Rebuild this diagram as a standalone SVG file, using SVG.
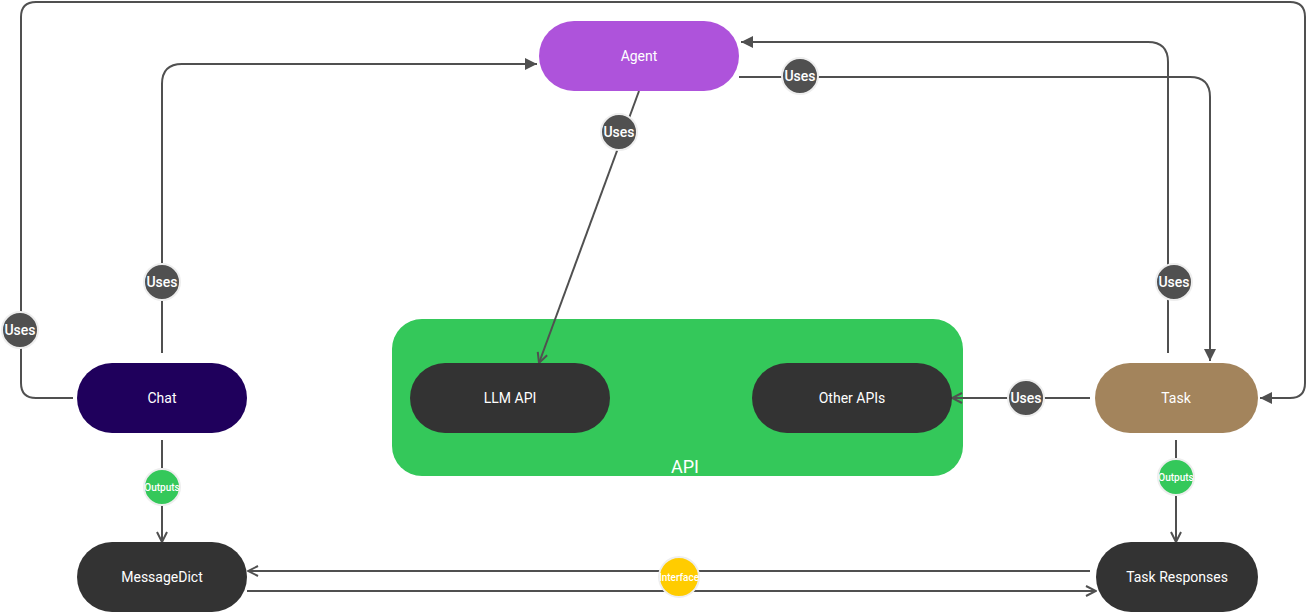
<svg xmlns="http://www.w3.org/2000/svg" width="1309" height="612" viewBox="0 0 1309 612">
<style>
.lbl{font-family:Roboto,"Liberation Sans",sans-serif;fill:#fff;font-size:14px;text-anchor:middle;dominant-baseline:central}
.edge{fill:none;stroke:#505050;stroke-width:2}
.uses{fill:#505050;stroke:#eeeeee;stroke-width:2}
.ut{font-family:Roboto,"Liberation Sans",sans-serif;fill:#fff;font-size:14px;font-weight:500;text-anchor:middle;dominant-baseline:central}
.out{fill:#34c85a;stroke:#eeeeee;stroke-width:2}
.st{font-family:Roboto,"Liberation Sans",sans-serif;fill:#fff;font-size:10px;font-weight:500;text-anchor:middle;dominant-baseline:central}
</style>
<defs>
<marker id="fa" viewBox="0 0 10 10" refX="10" refY="5" markerWidth="6" markerHeight="6" markerUnits="strokeWidth" orient="auto">
<path d="M0,0 L10,5 L0,10 Z" fill="#505050"/>
</marker>
<marker id="oa" viewBox="0 0 12 12" refX="11" refY="6" markerWidth="6" markerHeight="6" markerUnits="strokeWidth" orient="auto">
<path d="M1,1 L11,6 L1,11" fill="none" stroke="#505050" stroke-width="2"/>
</marker>
</defs>
<g id="api-group">
<rect x="392" y="319" width="571" height="157" rx="30" fill="#34c85a"/>
<text x="685" y="466" class="lbl" style="font-size:18px">API</text>
</g>
<g id="connectors">
<path class="edge" d="M162,353 V84 Q162,64 182,64 H537" marker-end="url(#fa)"/>
<path class="edge" d="M73,398 H36 Q21,398 21,383 V17 Q21,2 36,2 H1290 Q1305,2 1305,17 V383 Q1305,398 1290,398 H1260" marker-end="url(#fa)"/>
<path class="edge" d="M639,91 L539,363" marker-end="url(#oa)"/>
<path class="edge" d="M739,77 H1190 Q1210,77 1210,97 V361" marker-end="url(#fa)"/>
<path class="edge" d="M1168,353 V62 Q1168,42 1148,42 H741" marker-end="url(#fa)"/>
<path class="edge" d="M1090,398 H952" marker-end="url(#oa)"/>
<path class="edge" d="M162,440 V542" marker-end="url(#oa)"/>
<path class="edge" d="M1176,440 V542" marker-end="url(#oa)"/>
<path class="edge" d="M1090,571 H248" marker-end="url(#oa)"/>
<path class="edge" d="M247,591 H1096" marker-end="url(#oa)"/>
<g id="edge-labels">
<circle class="uses" cx="162" cy="282" r="18"/><text class="ut" x="162" y="282">Uses</text>
<circle class="uses" cx="20" cy="330" r="18"/><text class="ut" x="20" y="330">Uses</text>
<circle class="uses" cx="619" cy="132" r="18"/><text class="ut" x="619" y="132">Uses</text>
<circle class="uses" cx="800" cy="76" r="18"/><text class="ut" x="800" y="76">Uses</text>
<circle class="uses" cx="1174" cy="282" r="18"/><text class="ut" x="1174" y="282">Uses</text>
<circle class="uses" cx="1026" cy="398" r="18"/><text class="ut" x="1026" y="398">Uses</text>
<circle class="out" cx="162" cy="487" r="18"/><text class="st" x="162" y="487">Outputs</text>
<circle class="out" cx="1176" cy="477" r="18"/><text class="st" x="1176" y="477">Outputs</text>
<circle cx="679" cy="577" r="20" fill="#ffcc00" stroke="#eeeeee" stroke-width="2"/><text class="st" x="679" y="577">Interface</text>
</g>
</g>
<g id="agent"><rect x="539" y="21" width="200" height="70" rx="35" fill="#ae53db"/><text class="lbl" x="639" y="56">Agent</text></g>
<g id="chat"><rect x="77" y="363" width="170" height="70" rx="35" fill="#1f005c"/><text class="lbl" x="162" y="398">Chat</text></g>
<g id="task"><rect x="1095" y="363" width="163" height="70" rx="35" fill="#a3845c"/><text class="lbl" x="1176" y="398">Task</text></g>
<g id="llm-api"><rect x="410" y="363" width="200" height="70" rx="35" fill="#333333"/><text class="lbl" x="510" y="398">LLM API</text></g>
<g id="other-apis"><rect x="752" y="363" width="200" height="70" rx="35" fill="#333333"/><text class="lbl" x="852" y="398">Other APIs</text></g>
<g id="messagedict"><rect x="77" y="542" width="170" height="70" rx="35" fill="#333333"/><text class="lbl" x="162" y="577">MessageDict</text></g>
<g id="task-responses"><rect x="1096" y="542" width="162" height="70" rx="35" fill="#333333"/><text class="lbl" x="1177" y="577">Task Responses</text></g>
</svg>
